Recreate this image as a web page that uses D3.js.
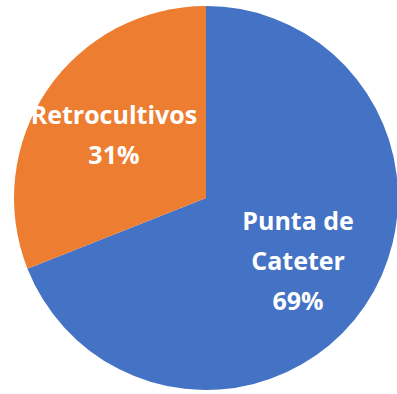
<!DOCTYPE html>
<html>
<head>
<meta charset="utf-8">
<script src="https://cdn.jsdelivr.net/npm/d3@7/dist/d3.min.js"></script>
<style>
  html, body { margin: 0; padding: 0; background: #ffffff; }
  svg { display: block; }
</style>
</head>
<body>
<svg id="chart" width="397" height="394"></svg>
<script>
// Sample sources and their share of positive cultures (%)
const categories = ["Punta de\nCateter", "Retrocultivos"];
const values = [69, 31];
const colors = ["#4472C4", "#ED7D31"];

const width = 397, height = 394;
const cx = 206, cy = 198, radius = 192;
const lineHeight = 40, capHeight = 18;

const svg = d3.select("#chart");
const g = svg.append("g").attr("transform", `translate(${cx},${cy})`);

const data = categories.map((c, i) => ({ category: c, value: values[i], color: colors[i] }));

const pie = d3.pie().sort(null).value(d => d.value).startAngle(0).endAngle(2 * Math.PI);
const arc = d3.arc().innerRadius(0).outerRadius(radius);
const labelArc = d3.arc().innerRadius(radius * 0.58).outerRadius(radius * 0.58);

const arcs = pie(data);

g.selectAll("path.slice")
  .data(arcs)
  .join("path")
  .attr("class", "slice")
  .attr("d", arc)
  .attr("fill", d => d.data.color);

const labels = g.selectAll("text.label")
  .data(arcs)
  .join("text")
  .attr("class", "label")
  .attr("text-anchor", "middle")
  .attr("fill", "#ffffff")
  .style("font-family", "'Open Sans', sans-serif")
  .style("font-weight", "bold")
  .style("font-size", "25px");

labels.each(function(d) {
  const [x, y] = labelArc.centroid(d);
  const total = d3.sum(values);
  const lines = d.data.category.split("\n").concat([Math.round(d.data.value / total * 100) + "%"]);
  const first = y - (lines.length - 1) * lineHeight / 2 + capHeight / 2;
  d3.select(this).selectAll("tspan")
    .data(lines)
    .join("tspan")
    .attr("x", x)
    .attr("y", (l, i) => first + i * lineHeight)
    .text(l => l);
});
</script>
</body>
</html>
